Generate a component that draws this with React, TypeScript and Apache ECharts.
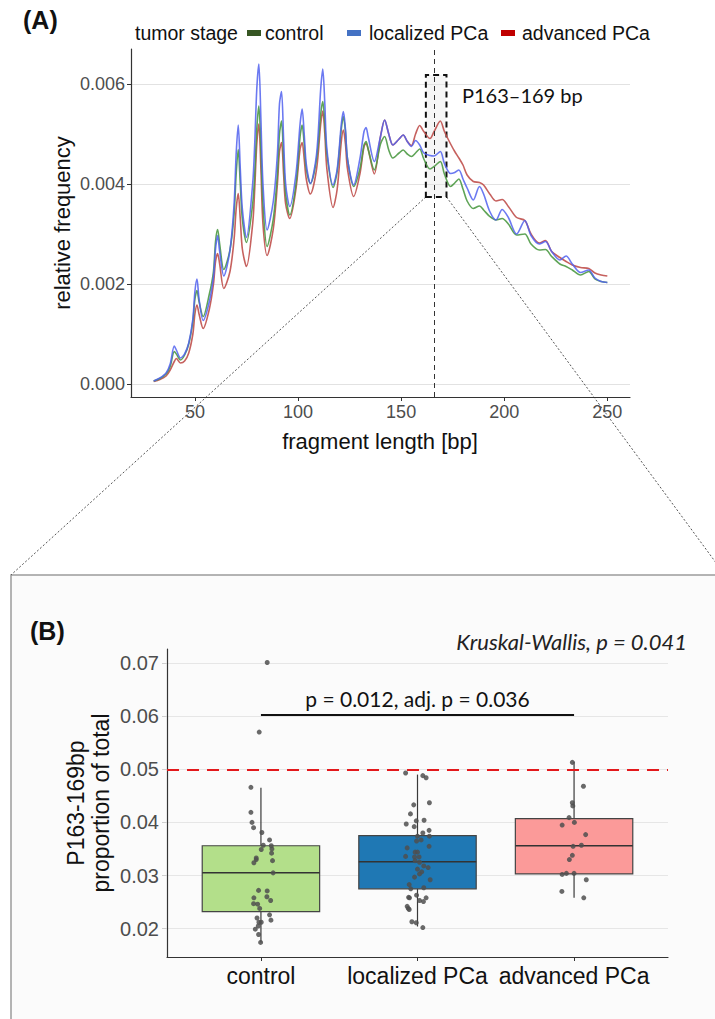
import React, { useEffect, useRef } from "react";
import * as echarts from "echarts";

// ---------- Panel A data: fragment length profile ----------
const fragmentLengths = [30,33,36,38,40,41,43,45,47,49,50,51,52,54,57,59,60,61,62,64,67,69,70,71,72,73,75,78,79,80,81,82,83,85,88,90,91,92,93,94,96,99,101,102,103,104,106,109,111,112,113,114,117,119,121,122,123,124,127,130,132,133,134,137,140,142,144,146,149,151,153,155,157,159,161,164,166,169,171,174,176,178,180,182,185,188,190,193,196,199,202,206,210,213,217,220,223,227,230,233,237,241,244,247,250];

const controlFreq = [0.00006,0.00011,0.0002,0.00035,0.00065,0.0006,0.00048,0.00058,0.0008,0.00125,0.0017,0.00187,0.00165,0.00135,0.0018,0.00225,0.00285,0.00309,0.0028,0.00229,0.00268,0.0034,0.0042,0.00469,0.004,0.0033,0.00283,0.0036,0.0042,0.0051,0.00556,0.0047,0.0036,0.00275,0.0033,0.0042,0.005,0.00526,0.0045,0.0038,0.00338,0.004,0.00495,0.00518,0.0048,0.0043,0.00401,0.0045,0.0054,0.00565,0.0052,0.0046,0.00393,0.00425,0.0051,0.00535,0.00505,0.0045,0.00395,0.0043,0.00478,0.00485,0.0047,0.00428,0.0048,0.00495,0.00468,0.00452,0.00462,0.00468,0.0046,0.00455,0.00462,0.0047,0.0045,0.0043,0.00435,0.00445,0.0042,0.00395,0.00402,0.0041,0.0039,0.00366,0.00351,0.00356,0.00348,0.00335,0.00328,0.00331,0.0032,0.00298,0.003,0.0028,0.00268,0.00269,0.00255,0.0024,0.00235,0.00228,0.00218,0.00225,0.0021,0.00205,0.00203];

const localizedFreq = [0.00006,0.00012,0.00022,0.0004,0.00076,0.00068,0.00052,0.0006,0.00082,0.0013,0.00185,0.0021,0.0017,0.00127,0.00165,0.00215,0.0027,0.00297,0.00265,0.00216,0.00268,0.0036,0.0046,0.00518,0.0043,0.0035,0.00293,0.004,0.0048,0.0059,0.0064,0.0053,0.004,0.00308,0.00365,0.0046,0.0056,0.00585,0.0049,0.004,0.00355,0.0042,0.0052,0.0055,0.005,0.0044,0.00401,0.0046,0.0059,0.0063,0.0056,0.0047,0.00398,0.0043,0.0052,0.00545,0.0051,0.0045,0.00398,0.0045,0.00505,0.00513,0.00495,0.00445,0.00495,0.00528,0.005,0.00478,0.0049,0.00498,0.00485,0.00475,0.00487,0.00478,0.00462,0.00457,0.00456,0.00465,0.00441,0.00421,0.00423,0.00428,0.0041,0.00392,0.00368,0.00395,0.0038,0.00345,0.00328,0.00349,0.00333,0.003,0.00327,0.00297,0.0028,0.00285,0.00265,0.00248,0.00256,0.0024,0.00223,0.00228,0.00212,0.00205,0.00203];

const advancedFreq = [0.00005,0.00009,0.00016,0.00028,0.00045,0.00051,0.00042,0.00046,0.00062,0.001,0.0014,0.00158,0.0014,0.00111,0.0015,0.002,0.00245,0.00261,0.0024,0.00191,0.00225,0.0029,0.0035,0.00381,0.0033,0.0027,0.00235,0.0032,0.0039,0.0048,0.0052,0.0043,0.0032,0.00257,0.0031,0.004,0.00465,0.00483,0.0042,0.0036,0.00331,0.0039,0.0047,0.00483,0.0045,0.0041,0.0038,0.0043,0.0052,0.00546,0.005,0.0043,0.00353,0.0039,0.00485,0.00508,0.0048,0.0043,0.00375,0.0042,0.00475,0.00481,0.0047,0.0042,0.00495,0.00528,0.005,0.00478,0.0049,0.00498,0.00485,0.00477,0.005,0.00517,0.00505,0.00491,0.00505,0.00526,0.00505,0.0048,0.00465,0.00452,0.00438,0.00418,0.00405,0.00403,0.00398,0.0038,0.00366,0.00369,0.00355,0.00333,0.00327,0.003,0.00282,0.00287,0.00265,0.00253,0.00245,0.00238,0.00233,0.00231,0.00222,0.00218,0.00216];

const xTicksA = [50, 100, 150, 200, 250];
const yTicksA = [0, 0.002, 0.004, 0.006];

// ---------- Panel B data ----------
const groups = ["control", "localized PCa", "advanced PCa"];
const boxMin = [0.0174, 0.0204, 0.0258];
const boxQ1 = [0.0232, 0.0275, 0.0303];
const boxMedian = [0.0305, 0.0326, 0.0356];
const boxQ3 = [0.0356, 0.0375, 0.0407];
const boxMax = [0.0465, 0.049, 0.0514];

const controlValues = [0.0701,0.057,0.0466,0.0419,0.04,0.039,0.0381,0.0367,0.0357,0.0356,0.035,0.0349,0.0342,0.0333,0.033,0.0328,0.0324,0.0305,0.0272,0.0271,0.026,0.0258,0.0253,0.0247,0.0246,0.0238,0.0226,0.022,0.0216,0.0212,0.0212,0.0205,0.0199,0.0189,0.0174];
const controlJitter = [0.04,-0.011,-0.064,-0.064,-0.057,-0.047,0.006,0.055,0.015,0.066,0.07,0.002,0.068,-0.03,-0.03,0.074,-0.045,0.078,-0.015,0.04,0.038,-0.045,0.062,-0.047,-0.021,-0.008,0.055,-0.025,0.064,-0.013,0.002,-0.017,-0.036,-0.015,-0.002];

const localizedValues = [0.0493,0.0488,0.0484,0.0433,0.0437,0.0416,0.0397,0.0403,0.0404,0.0392,0.0385,0.038,0.0374,0.0374,0.0367,0.0365,0.0355,0.0352,0.0344,0.0344,0.0336,0.0335,0.0335,0.0328,0.0325,0.0318,0.0315,0.0312,0.0307,0.0303,0.0297,0.0292,0.0283,0.0275,0.0277,0.0263,0.0259,0.0258,0.0258,0.0253,0.0251,0.0242,0.0238,0.0236,0.0213,0.0211,0.0202];
const localizedJitter = [-0.076,0.034,0.055,-0.024,0.076,-0.045,-0.072,-0.008,0.042,-0.021,0.074,0.034,0,0.076,0.023,-0.006,0.074,-0.066,-0.015,0,-0.076,-0.019,0.01,-0.015,0.013,0.04,0.068,0,0.027,0.013,-0.019,0.081,-0.053,-0.043,0.04,-0.006,-0.057,-0.051,0.055,0.013,0.038,-0.066,-0.059,-0.053,-0.036,-0.008,0.034];

const advancedValues = [0.0513,0.0468,0.0437,0.0431,0.0409,0.0395,0.04,0.0377,0.0357,0.0355,0.0338,0.033,0.0302,0.0304,0.0304,0.0292,0.027,0.0258];
const advancedJitter = [-0.011,0.06,-0.011,-0.008,-0.032,-0.076,0.002,0.074,0.047,-0.006,-0.011,-0.03,-0.076,-0.049,0,0.078,-0.078,0.062];

const yTicksB = [0.02, 0.03, 0.04, 0.05, 0.06, 0.07];
const thresholdB = 0.05;
const bracketLevel = 0.0603;

const boxColors = ["#b3df8a", "#1f78b4", "#fb9a99"];
const lineColors = { control: "#4e9a45", localized: "#5161ee", advanced: "#c0504d" };
const legendColors = ["#375623", "#4472c4", "#c00000"];

const SANS = "'Liberation Sans', Arial, sans-serif";
const CAL = "Lato, 'Open Sans', sans-serif";

function zip(xs: number[], ys: number[]) {
  return xs.map((x, i) => [x, ys[i]]);
}

function jitterData(group: number, vals: number[], jit: number[]) {
  return vals.map((v, i) => [group + jit[i], v]);
}

export default function App() {
  const ref = useRef<HTMLDivElement>(null);
  useEffect(() => {
    document.body.style.margin = "0";
    const chart = echarts.init(ref.current!, null, { renderer: "svg" });
    const lineBase = {
      type: "line",
      xAxisIndex: 0,
      yAxisIndex: 0,
      symbol: "none",
      smooth: 0.3,
    };
    const option: any = {
      animation: false,
      backgroundColor: "#ffffff",
      textStyle: { fontFamily: SANS },
      grid: [
        { left: 131, top: 49, width: 499, height: 348 },
        { left: 167, top: 649, width: 501, height: 308 },
      ],
      xAxis: [
        {
          gridIndex: 0, type: "value", min: 19, max: 261,
          axisLine: { show: true, onZero: false, lineStyle: { color: "#333", width: 1.2 } },
          axisTick: { show: true, length: 4, customValues: xTicksA, lineStyle: { color: "#333" } },
          axisLabel: { customValues: xTicksA, color: "#4d4d4d", fontSize: 18, margin: 6, fontFamily: SANS },
          splitLine: { show: false },
        },
        {
          gridIndex: 1, type: "value", min: 0.4, max: 3.6,
          axisLine: { show: true, onZero: false, lineStyle: { color: "#333", width: 1.2 } },
          axisTick: { show: true, length: 4, customValues: [1, 2, 3], lineStyle: { color: "#333" } },
          axisLabel: {
            customValues: [1, 2, 3], color: "#111", fontSize: 23, margin: 7, fontFamily: SANS,
            formatter: (v: number) => groups[Math.round(v) - 1],
          },
          splitLine: { show: false },
        },
      ],
      yAxis: [
        {
          gridIndex: 0, type: "value", min: -0.00026, max: 0.0067,
          axisLine: { show: true, onZero: false, lineStyle: { color: "#333", width: 1.2 } },
          axisTick: { show: true, length: 4, customValues: yTicksA, lineStyle: { color: "#333" } },
          axisLabel: { customValues: yTicksA, color: "#4d4d4d", fontSize: 18, margin: 6, fontFamily: SANS, formatter: (v: number) => v.toFixed(3) },
          splitLine: { show: true, lineStyle: { color: "#e2e2e2", width: 1 } },
        },
        {
          gridIndex: 1, type: "value", min: 0.01466, max: 0.07264,
          axisLine: { show: true, onZero: false, lineStyle: { color: "#333", width: 1.2 } },
          axisTick: { show: true, length: 5, customValues: yTicksB, lineStyle: { color: "#cfcfcf" } },
          axisLabel: { customValues: yTicksB, color: "#4d4d4d", fontSize: 20, margin: 8, fontFamily: SANS, formatter: (v: number) => v.toFixed(2) },
          splitLine: { show: true, lineStyle: { color: "#e6e6e6", width: 1 } },
        },
      ],
      series: [
        {
          ...lineBase,
          name: "advanced PCa",
          data: zip(fragmentLengths, advancedFreq),
          lineStyle: { color: lineColors.advanced, width: 1.6, opacity: 0.9 },
          markArea: {
            silent: true,
            itemStyle: { color: "rgba(230,230,230,0.35)", borderColor: "#111", borderWidth: 2, borderType: [6, 4] },
            data: [[{ coord: [162, 0.00374] }, { coord: [172, 0.00618] }]],
          },
        },
        {
          ...lineBase,
          name: "control",
          data: zip(fragmentLengths, controlFreq),
          lineStyle: { color: lineColors.control, width: 1.6, opacity: 0.9 },
        },
        {
          ...lineBase,
          name: "localized PCa",
          data: zip(fragmentLengths, localizedFreq),
          lineStyle: { color: lineColors.localized, width: 1.6, opacity: 0.85 },
          markLine: {
            silent: true,
            symbol: ["none", "none"],
            label: { show: false },
            lineStyle: { color: "#333", width: 1, type: [5, 4] },
            data: [{ xAxis: 166 }],
          },
        },
        {
          type: "custom",
          xAxisIndex: 1,
          yAxisIndex: 1,
          data: groups.map((g, i) => [i + 1, boxMin[i], boxQ1[i], boxMedian[i], boxQ3[i], boxMax[i]]),
          encode: { x: 0, y: [1, 2, 3, 4, 5] },
          z: 3,
          renderItem: (params: any, api: any) => {
            const x = api.value(0);
            const pMin = api.coord([x, api.value(1)]);
            const pQ1 = api.coord([x, api.value(2)]);
            const pMed = api.coord([x, api.value(3)]);
            const pQ3 = api.coord([x, api.value(4)]);
            const pMax = api.coord([x, api.value(5)]);
            const half = api.size([0.75, 0])[0] / 2;
            const stroke = "#3a3a3a";
            return {
              type: "group",
              children: [
                { type: "line", shape: { x1: pMin[0], y1: pMin[1], x2: pQ1[0], y2: pQ1[1] }, style: { stroke, lineWidth: 1.2 } },
                { type: "line", shape: { x1: pQ3[0], y1: pQ3[1], x2: pMax[0], y2: pMax[1] }, style: { stroke, lineWidth: 1.2 } },
                {
                  type: "rect",
                  shape: { x: pQ3[0] - half, y: pQ3[1], width: half * 2, height: pQ1[1] - pQ3[1] },
                  style: { fill: boxColors[params.dataIndex], stroke: "#444", lineWidth: 1.2 },
                },
                { type: "line", shape: { x1: pMed[0] - half, y1: pMed[1], x2: pMed[0] + half, y2: pMed[1] }, style: { stroke: "#333", lineWidth: 1.5 } },
              ],
            };
          },
        },
        {
          type: "scatter",
          xAxisIndex: 1,
          yAxisIndex: 1,
          z: 5,
          symbolSize: 5,
          itemStyle: { color: "#4f4f4f", opacity: 0.85 },
          data: [
            ...jitterData(1, controlValues, controlJitter),
            ...jitterData(2, localizedValues, localizedJitter),
            ...jitterData(3, advancedValues, advancedJitter),
          ],
          markLine: {
            silent: true,
            symbol: ["none", "none"],
            data: [
              {
                yAxis: thresholdB,
                lineStyle: { color: "#e3191c", width: 2, type: [12, 8] },
                label: { show: false },
              },
              [
                {
                  coord: [1, bracketLevel],
                  lineStyle: { color: "#111", width: 1.8, type: "solid" },
                  label: {
                    show: true,
                    position: "insideMiddleTop",
                    formatter: "p = 0.012, adj. p = 0.036",
                    fontFamily: CAL,
                    fontSize: 21,
                    color: "#111",
                    distance: 6,
                  },
                },
                { coord: [3, bracketLevel] },
              ],
            ],
          },
        },
      ],
    };
    chart.setOption(option);

    const bl = chart.convertToPixel({ xAxisIndex: 0, yAxisIndex: 0 }, [162, 0.00374]) as number[];
    const br = chart.convertToPixel({ xAxisIndex: 0, yAxisIndex: 0 }, [172, 0.00374]) as number[];
    const panelTop = 575;
    const panelLeft = 11;
    const panelRight = 725;

    const legendItems = [
      { key: 247, text: 265, label: "control" },
      { key: 347, text: 369, label: "localized PCa" },
      { key: 501, text: 522, label: "advanced PCa" },
    ];

    chart.setOption({
      graphic: [
        {
          type: "rect",
          z: -10,
          silent: true,
          shape: { x: panelLeft, y: panelTop, width: panelRight - panelLeft, height: 470 },
          style: { fill: "#fbfbfb", stroke: "#9c9c9c", lineWidth: 1.5 },
        },
        {
          type: "line",
          silent: true,
          shape: { x1: bl[0], y1: bl[1], x2: panelLeft, y2: panelTop },
          style: { stroke: "#555", lineWidth: 1, lineDash: [2, 2] },
        },
        {
          type: "line",
          silent: true,
          shape: { x1: br[0], y1: br[1], x2: panelRight, y2: panelTop },
          style: { stroke: "#555", lineWidth: 1, lineDash: [2, 2] },
        },
        { type: "text", x: 23, y: 20, style: { text: "(A)", fontFamily: SANS, fontWeight: "bold", fontSize: 25, fill: "#111", verticalAlign: "middle" } },
        { type: "text", x: 135, y: 33, style: { text: "tumor stage", fontFamily: SANS, fontSize: 19.5, fill: "#111", verticalAlign: "middle" } },
        ...legendItems.flatMap((it, i) => [
          { type: "rect", shape: { x: it.key, y: 30, width: 14, height: 6 }, style: { fill: legendColors[i] } },
          { type: "text", x: it.text, y: 33, style: { text: it.label, fontFamily: SANS, fontSize: 19.5, fill: "#111", verticalAlign: "middle" } },
        ]),
        { type: "text", x: 462, y: 95, style: { text: "P163\u2013169 bp", fontFamily: CAL, fontSize: 20, fill: "#111", verticalAlign: "middle" } },
        { type: "text", x: 62, y: 223, rotation: Math.PI / 2, style: { text: "relative frequency", fontFamily: SANS, fontSize: 22, fill: "#111", align: "center", verticalAlign: "middle" } },
        { type: "text", x: 380, y: 441, style: { text: "fragment length [bp]", fontFamily: SANS, fontSize: 22, fill: "#111", align: "center", verticalAlign: "middle" } },
        { type: "text", x: 30, y: 631, style: { text: "(B)", fontFamily: SANS, fontWeight: "bold", fontSize: 25, fill: "#111", verticalAlign: "middle" } },
        { type: "text", x: 687, y: 641, style: { text: "Kruskal-Wallis, p = 0.041", fontFamily: CAL, fontStyle: "italic", fontSize: 22, fill: "#222", align: "right", verticalAlign: "middle" } },
        { type: "text", x: 76, y: 803, rotation: Math.PI / 2, style: { text: "P163-169bp", fontFamily: SANS, fontSize: 23, fill: "#111", align: "center", verticalAlign: "middle" } },
        { type: "text", x: 101, y: 803, rotation: Math.PI / 2, style: { text: "proportion of total", fontFamily: SANS, fontSize: 23, fill: "#111", align: "center", verticalAlign: "middle" } },
      ],
    });
    return () => chart.dispose();
  }, []);
  return <div ref={ref} style={{ position: "absolute", left: 0, top: 0, width: 715, height: 1019 }} />;
}
